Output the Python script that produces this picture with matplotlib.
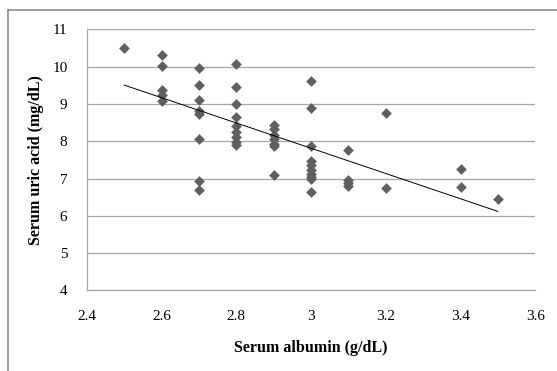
import numpy as np
import matplotlib.pyplot as plt
from matplotlib.lines import Line2D

# Serum albumin (g/dL) and serum uric acid (mg/dL)
albumin = [2.5,
           2.6, 2.6, 2.6, 2.6, 2.6,
           2.7, 2.7, 2.7, 2.7, 2.7, 2.7, 2.7, 2.7,
           2.8, 2.8, 2.8, 2.8, 2.8, 2.8, 2.8, 2.8, 2.8,
           2.9, 2.9, 2.9, 2.9, 2.9, 2.9, 2.9,
           3.0, 3.0, 3.0, 3.0, 3.0, 3.0, 3.0, 3.0, 3.0, 3.0,
           3.1, 3.1, 3.1, 3.1,
           3.2, 3.2,
           3.4, 3.4,
           3.5]
uric_acid = [10.5,
             10.31, 10.02, 9.38, 9.25, 9.08,
             9.96, 9.52, 9.1, 8.82, 8.72, 8.07, 6.93, 6.69,
             10.06, 9.45, 9.0, 8.66, 8.4, 8.25, 8.12, 7.98, 7.9,
             8.44, 8.32, 8.18, 8.05, 7.93, 7.88, 7.1,
             9.62, 8.9, 7.88, 7.48, 7.37, 7.24, 7.12, 7.05, 6.98, 6.65,
             7.76, 6.97, 6.87, 6.8,
             8.75, 6.76,
             7.25, 6.77,
             6.45]

x_ticks = [2.4, 2.6, 2.8, 3.0, 3.2, 3.4, 3.6]
x_tick_labels = ['2.4', '2.6', '2.8', '3', '3.2', '3.4', '3.6']
y_ticks = [4, 5, 6, 7, 8, 9, 10, 11]

plt.rcParams['font.family'] = ['Liberation Serif', 'DejaVu Serif']

fig = plt.figure(figsize=(5.57, 3.71), dpi=100)
ax = fig.add_axes([0.156, 0.217, 0.805, 0.704])

ax.scatter(albumin, uric_acid, marker='D', s=30, color='#5f5f5f',
           linewidths=0, zorder=3)

# linear trend line
k, b = np.polyfit(albumin, uric_acid, 1)
xs = np.array([min(albumin), max(albumin)])
ax.plot(xs, k * xs + b, color='black', linewidth=0.7, zorder=4)

ax.set_xlim(2.4, 3.6)
ax.set_ylim(4, 11)
ax.set_xticks(x_ticks)
ax.set_xticklabels(x_tick_labels)
ax.set_yticks(y_ticks)
ax.tick_params(length=0, labelsize=11)
ax.tick_params(axis='x', pad=14)
ax.tick_params(axis='y', pad=14)

ax.grid(axis='y', color='#a6a6a6', linewidth=0.9)
ax.set_axisbelow(True)
for side in ['top', 'right']:
    ax.spines[side].set_visible(False)
for side in ['left', 'bottom']:
    ax.spines[side].set_color('#a6a6a6')
    ax.spines[side].set_linewidth(0.9)

ax.set_xlabel('Serum albumin (g/dL)', fontsize=11.5, fontweight='bold', labelpad=12)
ax.set_ylabel('Serum uric acid (mg/dL)', fontsize=11.5, fontweight='bold', labelpad=6)

# outer chart border (only top and left visible in the crop)
fig.add_artist(Line2D([8 / 557, 8 / 557], [0, 1 - 10 / 371], color='#8c8c8c', linewidth=1.2))
fig.add_artist(Line2D([8 / 557, 1], [1 - 10 / 371, 1 - 10 / 371], color='#8c8c8c', linewidth=1.2))

fig.savefig('out.png', dpi=100)
